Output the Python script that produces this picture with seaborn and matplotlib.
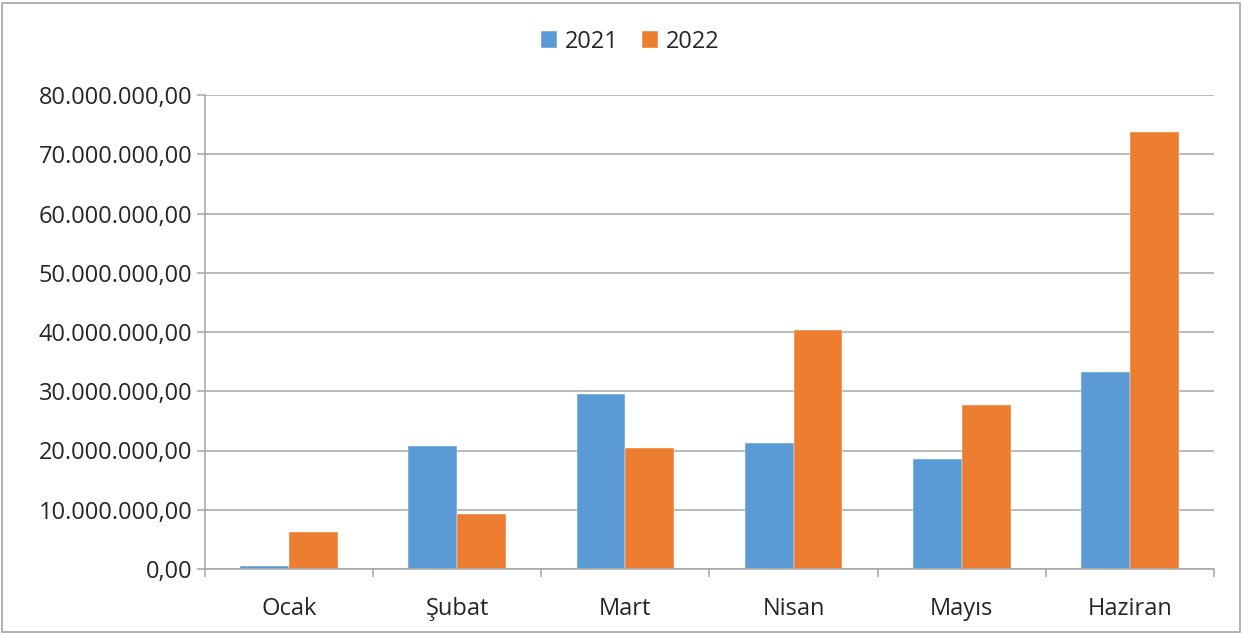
import matplotlib
matplotlib.use("Agg")
import matplotlib.pyplot as plt
import matplotlib.ticker as mticker
from matplotlib.patches import Rectangle
import seaborn as sns
import pandas as pd

months = ["Ocak", "Şubat", "Mart", "Nisan", "Mayıs", "Haziran"]
years = ["2021", "2022"]
values_2021 = [0.5e6, 20.8e6, 29.5e6, 21.2e6, 18.6e6, 33.3e6]
values_2022 = [6.3e6, 9.2e6, 20.4e6, 40.4e6, 27.7e6, 73.7e6]
colors = ["#5B9BD5", "#ED7D31"]

df = pd.DataFrame({
    "Ay": months * 2,
    "Yıl": [years[0]] * len(months) + [years[1]] * len(months),
    "Değer": values_2021 + values_2022,
})

sns.set_theme(style="white")
plt.rcParams["font.family"] = ["Open Sans", "DejaVu Sans"]

FS = 17

fig = plt.figure(figsize=(12.44, 6.34), dpi=100)
ax = fig.add_axes([205/1244, 1-569/634, (1214-205)/1244, (569-95)/634])

sns.barplot(data=df, x="Ay", y="Değer", hue="Yıl", palette=colors,
            width=0.58, order=months, hue_order=years, ax=ax, saturation=1,
            legend=True)

ax.set_ylim(0, 80e6)
ax.set_xlim(-0.5, len(months) - 0.5)
ax.yaxis.set_major_locator(mticker.MultipleLocator(10e6))

def tr_fmt(v, pos):
    s = f"{v:,.2f}"
    return s.replace(",", "X").replace(".", ",").replace("X", ".")

ax.yaxis.set_major_formatter(mticker.FuncFormatter(tr_fmt))
ax.grid(axis="y", color="#A6A6A6", linewidth=1.1)
ax.set_axisbelow(True)
ax.set_xlabel("")
ax.set_ylabel("")

for s in ["top", "right"]:
    ax.spines[s].set_visible(False)
for s in ["left", "bottom"]:
    ax.spines[s].set_color("#A6A6A6")
    ax.spines[s].set_linewidth(1.1)

ax.tick_params(axis="y", which="major", left=True, length=6, width=1.1,
               color="#A6A6A6", labelsize=FS, labelcolor="#262626", pad=3)
ax.tick_params(axis="x", which="major", length=0, labelsize=FS,
               labelcolor="#262626", pad=20)
ax.set_xticks([i - 0.5 for i in range(len(months) + 1)], minor=True)
ax.tick_params(axis="x", which="minor", bottom=True, length=6, width=1.1,
               color="#A6A6A6")

for p in ax.patches:
    p.set_edgecolor("#FFFFFF")
    p.set_linewidth(0.3)

handles, labels = ax.get_legend_handles_labels()
ax.legend_.remove()
fig.legend(handles, labels, loc="center", bbox_to_anchor=(630/1244, 1-42/634),
           ncol=2, frameon=False, fontsize=FS, handlelength=0.7,
           handleheight=0.7, handletextpad=0.3, columnspacing=1.0,
           labelcolor="#262626")

fig.patches.append(Rectangle((0.0015, 0.003), 0.995, 0.993, transform=fig.transFigure,
                             fill=False, edgecolor="#A6A6A6", linewidth=1.2))

fig.savefig("out.png", dpi=100, facecolor="white")
